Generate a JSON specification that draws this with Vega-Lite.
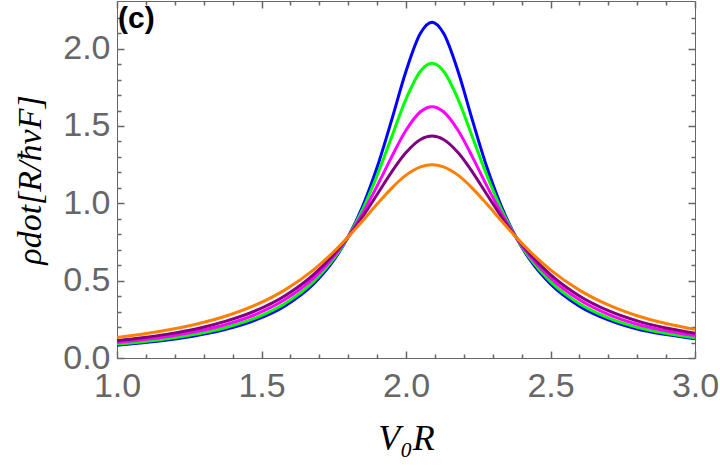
{
  "$schema": "https://vega.github.io/schema/vega-lite/v6.json",
  "description": "rho_dot versus V0R for five broadenings",
  "width": 578,
  "height": 357,
  "autosize": "none",
  "padding": {"left": 117, "top": 1, "right": 25, "bottom": 109},
  "background": "white",
  "config": {
    "view": {"stroke": "#666666", "strokeWidth": 1},
    "axis": {"grid": false, "domain": false}
  },
  "data": {
    "values": [
      {"x": 1.00, "blue": 0.083, "green": 0.090, "magenta": 0.100, "purple": 0.112, "orange": 0.133},
      {"x": 1.08, "blue": 0.097, "green": 0.104, "magenta": 0.116, "purple": 0.129, "orange": 0.152},
      {"x": 1.18, "blue": 0.118, "green": 0.126, "magenta": 0.140, "purple": 0.156, "orange": 0.182},
      {"x": 1.28, "blue": 0.147, "green": 0.156, "magenta": 0.173, "purple": 0.191, "orange": 0.221},
      {"x": 1.38, "blue": 0.187, "green": 0.199, "magenta": 0.218, "purple": 0.240, "orange": 0.273},
      {"x": 1.48, "blue": 0.246, "green": 0.260, "magenta": 0.282, "purple": 0.306, "orange": 0.343},
      {"x": 1.58, "blue": 0.335, "green": 0.351, "magenta": 0.376, "purple": 0.401, "orange": 0.439},
      {"x": 1.68, "blue": 0.478, "green": 0.493, "magenta": 0.516, "purple": 0.539, "orange": 0.570},
      {"x": 1.75, "blue": 0.632, "green": 0.642, "magenta": 0.656, "purple": 0.669, "orange": 0.687},
      {"x": 1.80, "blue": 0.783, "green": 0.783, "magenta": 0.783, "purple": 0.783, "orange": 0.783},
      {"x": 1.85, "blue": 0.981, "green": 0.961, "magenta": 0.936, "purple": 0.914, "orange": 0.887},
      {"x": 1.90, "blue": 1.233, "green": 1.180, "magenta": 1.112, "purple": 1.057, "orange": 0.995},
      {"x": 1.95, "blue": 1.536, "green": 1.428, "magenta": 1.299, "purple": 1.202, "orange": 1.097},
      {"x": 2.00, "blue": 1.854, "green": 1.674, "magenta": 1.472, "purple": 1.328, "orange": 1.182},
      {"x": 2.05, "blue": 2.099, "green": 1.854, "magenta": 1.592, "purple": 1.413, "orange": 1.236},
      {"x": 2.09, "blue": 2.170, "green": 1.905, "magenta": 1.625, "purple": 1.435, "orange": 1.250},
      {"x": 2.13, "blue": 2.099, "green": 1.854, "magenta": 1.592, "purple": 1.413, "orange": 1.236},
      {"x": 2.18, "blue": 1.854, "green": 1.674, "magenta": 1.472, "purple": 1.328, "orange": 1.182},
      {"x": 2.23, "blue": 1.536, "green": 1.428, "magenta": 1.299, "purple": 1.202, "orange": 1.097},
      {"x": 2.28, "blue": 1.233, "green": 1.180, "magenta": 1.112, "purple": 1.057, "orange": 0.995},
      {"x": 2.33, "blue": 0.981, "green": 0.961, "magenta": 0.936, "purple": 0.914, "orange": 0.887},
      {"x": 2.38, "blue": 0.783, "green": 0.783, "magenta": 0.783, "purple": 0.783, "orange": 0.783},
      {"x": 2.43, "blue": 0.632, "green": 0.642, "magenta": 0.656, "purple": 0.669, "orange": 0.687},
      {"x": 2.50, "blue": 0.478, "green": 0.493, "magenta": 0.516, "purple": 0.539, "orange": 0.570},
      {"x": 2.60, "blue": 0.335, "green": 0.351, "magenta": 0.376, "purple": 0.401, "orange": 0.439},
      {"x": 2.70, "blue": 0.246, "green": 0.260, "magenta": 0.282, "purple": 0.306, "orange": 0.343},
      {"x": 2.80, "blue": 0.187, "green": 0.199, "magenta": 0.218, "purple": 0.240, "orange": 0.273},
      {"x": 2.90, "blue": 0.151, "green": 0.160, "magenta": 0.176, "purple": 0.194, "orange": 0.223},
      {"x": 3.00, "blue": 0.124, "green": 0.131, "magenta": 0.145, "purple": 0.160, "orange": 0.185}
    ]
  },
  "layer": [
    {
      "transform": [{"fold": ["blue", "green", "magenta", "purple", "orange"], "as": ["series", "rho"]}],
      "mark": {"type": "line", "strokeWidth": 3, "interpolate": "monotone"},
      "encoding": {
        "x": {
          "field": "x", "type": "quantitative",
          "scale": {"domain": [1, 3], "nice": false},
          "axis": {
            "orient": "bottom", "values": [1, 1.5, 2, 2.5, 3], "format": ".1f",
            "tickSize": -7, "tickColor": "#666666", "tickWidth": 1.5, "labelPadding": 18,
            "labelFont": "Liberation Sans", "labelFontSize": 34, "labelColor": "#666666",
            "labelFlush": false, "labelOverlap": false, "labelBound": false,
            "title": "V₀R", "titleFont": "Liberation Serif", "titleFontStyle": "italic",
            "titleFontWeight": "normal", "titleFontSize": 36, "titleColor": "black", "titlePadding": 18
          }
        },
        "y": {
          "field": "rho", "type": "quantitative",
          "scale": {"domain": [0, 2.308], "nice": false},
          "axis": {
            "orient": "left", "values": [0, 0.5, 1, 1.5, 2], "format": ".1f",
            "tickSize": -7, "tickColor": "#666666", "tickWidth": 1.5, "labelPadding": 14,
            "labelFont": "Liberation Sans", "labelFontSize": 34, "labelColor": "#666666",
            "labelFlush": false, "labelOverlap": false, "labelBound": false,
            "title": "ρdot[R/ħvF]", "titleFont": "Liberation Serif", "titleFontStyle": "italic",
            "titleFontWeight": "normal", "titleFontSize": 34, "titleColor": "black", "titlePadding": 15
          }
        },
        "color": {
          "field": "series", "type": "nominal",
          "scale": {"domain": ["blue", "green", "magenta", "purple", "orange"], "range": ["#0000ff", "#00ff00", "#ff00ff", "#800080", "#ff8000"]},
          "legend": null
        }
      }
    },
    {
      "transform": [{"fold": ["blue"], "as": ["series", "rho"]}],
      "mark": {"type": "line", "opacity": 0},
      "encoding": {
        "x": {"field": "x", "type": "quantitative", "axis": {"orient": "bottom", "values": [1.1, 1.2, 1.3, 1.4, 1.6, 1.7, 1.8, 1.9, 2.1, 2.2, 2.3, 2.4, 2.6, 2.7, 2.8, 2.9], "labels": false, "tickSize": 4, "offset": -4, "tickColor": "#666666", "tickWidth": 1.5, "title": null}},
        "y": {"field": "rho", "type": "quantitative", "axis": {"orient": "left", "values": [0.1, 0.2, 0.3, 0.4, 0.6, 0.7, 0.8, 0.9, 1.1, 1.2, 1.3, 1.4, 1.6, 1.7, 1.8, 1.9, 2.1, 2.2], "labels": false, "tickSize": 4, "offset": -4, "tickColor": "#666666", "tickWidth": 1.5, "title": null}}
      }
    },
    {
      "transform": [{"fold": ["blue"], "as": ["series", "rho"]}],
      "mark": {"type": "line", "opacity": 0},
      "encoding": {
        "x": {"field": "x", "type": "quantitative", "axis": {"orient": "top", "values": [1, 1.5, 2, 2.5, 3], "labels": false, "tickSize": 7, "offset": -7, "tickColor": "#666666", "tickWidth": 1.5, "title": null}},
        "y": {"field": "rho", "type": "quantitative", "axis": {"orient": "right", "values": [0, 0.5, 1, 1.5, 2], "labels": false, "tickSize": 7, "offset": -7, "tickColor": "#666666", "tickWidth": 1.5, "title": null}}
      }
    },
    {
      "transform": [{"fold": ["blue"], "as": ["series", "rho"]}],
      "mark": {"type": "line", "opacity": 0},
      "encoding": {
        "x": {"field": "x", "type": "quantitative", "axis": {"orient": "top", "values": [1.1, 1.2, 1.3, 1.4, 1.6, 1.7, 1.8, 1.9, 2.1, 2.2, 2.3, 2.4, 2.6, 2.7, 2.8, 2.9], "labels": false, "tickSize": 4, "offset": -4, "tickColor": "#666666", "tickWidth": 1.5, "title": null}},
        "y": {"field": "rho", "type": "quantitative", "axis": {"orient": "right", "values": [0.1, 0.2, 0.3, 0.4, 0.6, 0.7, 0.8, 0.9, 1.1, 1.2, 1.3, 1.4, 1.6, 1.7, 1.8, 1.9, 2.1, 2.2], "labels": false, "tickSize": 4, "offset": -4, "tickColor": "#666666", "tickWidth": 1.5, "title": null}}
      }
    },
    {
      "data": {"values": [{"label": "(c)"}]},
      "mark": {"type": "text", "align": "left", "baseline": "top", "font": "Liberation Sans", "fontWeight": "bold", "fontSize": 30, "color": "black", "dx": 1, "dy": 3},
      "encoding": {
        "x": {"datum": 1, "type": "quantitative", "axis": null},
        "y": {"datum": 2.308, "type": "quantitative", "axis": null},
        "text": {"field": "label"}
      }
    }
  ],
  "resolve": {"axis": {"x": "independent", "y": "independent"}}
}
